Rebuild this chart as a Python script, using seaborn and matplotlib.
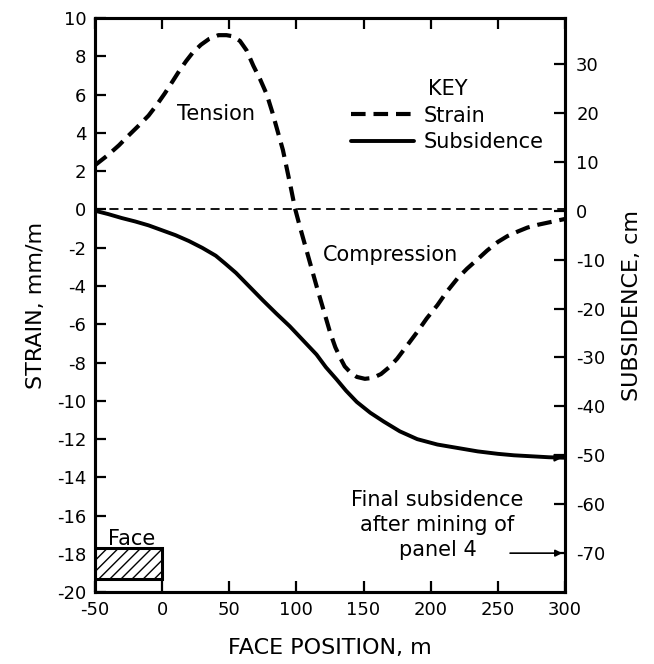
import numpy as np
import pandas as pd
import matplotlib
matplotlib.use("Agg")
import matplotlib.pyplot as plt
import seaborn as sns
from matplotlib.lines import Line2D
from matplotlib.patches import Rectangle

# strain curve (dashed), mm/m
strain_x = [-50, -40, -32, -25, -17, -10, -4, 2, 8, 13, 18, 23, 29, 35, 42, 48, 52, 58, 63,
            68, 73, 78, 82, 86, 90, 93, 96, 99, 103, 107, 111, 115, 120, 125, 129, 133,
            136, 140, 145, 151, 157, 163, 169, 175, 182, 190, 197, 205, 212, 220, 227,
            235, 242, 250, 257, 265, 272, 280, 290, 300]
strain_y = [2.3, 2.85, 3.35, 3.85, 4.4, 4.9, 5.45, 6.05, 6.7, 7.25, 7.75, 8.2, 8.6, 8.9, 9.1,
            9.1, 9.05, 8.8, 8.3, 7.5, 6.8, 6.0, 5.1, 4.1, 3.1, 2.1, 1.1, 0.05, -1.0, -2.0,
            -3.0, -4.0, -5.2, -6.4, -7.2, -7.8, -8.2, -8.5, -8.75, -8.85, -8.8, -8.6, -8.25,
            -7.8, -7.15, -6.4, -5.7, -5.0, -4.3, -3.6, -3.1, -2.6, -2.15, -1.7, -1.4, -1.15,
            -0.95, -0.8, -0.65, -0.5]

# subsidence curve (solid), cm
subs_x = [-50, -40, -30, -20, -10, 0, 10, 20, 30, 40, 47, 55, 65, 75, 85, 95, 105, 115, 122,
          130, 137, 145, 155, 165, 177, 190, 205, 220, 235, 250, 262, 275, 288, 300]
subs_y = [0, -0.7, -1.5, -2.2, -3.0, -4.0, -5.0, -6.2, -7.6, -9.2, -10.8, -12.7, -15.5, -18.3,
          -21.0, -23.6, -26.5, -29.4, -32.0, -34.5, -36.8, -39.1, -41.3, -43.1, -45.1, -46.7,
          -47.8, -48.5, -49.2, -49.7, -50.0, -50.2, -50.4, -50.5]

x_ticks = [-50, 0, 50, 100, 150, 200, 250, 300]
strain_ticks = list(range(-20, 11, 2))
subs_ticks = list(range(-70, 31, 10))
final_subsidence = -70

sns.set_style("ticks", {'axes.edgecolor': 'black', 'text.color': 'black',
                        'axes.labelcolor': 'black', 'xtick.color': 'black',
                        'ytick.color': 'black'})
plt.rcParams['font.family'] = ['DejaVu Sans']
plt.rcParams['axes.unicode_minus'] = False

strain_df = pd.DataFrame({'x': strain_x, 'strain': strain_y})
subs_df = pd.DataFrame({'x': subs_x, 'subsidence': subs_y})

dash = (0, (3.5, 1.9))

fig = plt.figure(figsize=(6.54, 6.64), dpi=100)
ax = fig.add_axes([0.145, 0.108, 0.719, 0.865])
ax2 = ax.twinx()

sns.lineplot(data=strain_df, x='x', y='strain', ax=ax, color='black', lw=3.0,
             sort=False, linestyle=dash)
sns.lineplot(data=subs_df, x='x', y='subsidence', ax=ax2, color='black', lw=2.8, sort=False)

ax.axhline(0, color='black', lw=1.3, linestyle=(0, (5, 3)))

ax.set_xlim(-50, 300)
ax.set_ylim(-20, 10)
ax2.set_ylim(-78, 39.4)
ax.set_xticks(x_ticks)
ax.set_yticks(strain_ticks)
ax2.set_yticks(subs_ticks)

for a in (ax, ax2):
    for s in a.spines.values():
        s.set_linewidth(2.2)
        s.set_visible(True)
ax.tick_params(axis='both', direction='in', length=8, width=1.6, labelsize=13, pad=6,
               top=True, right=False)
ax2.tick_params(axis='y', direction='in', length=8, width=1.6, labelsize=13, pad=8)

ax.set_xlabel('FACE POSITION, m', fontsize=16, labelpad=14)
ax.set_ylabel('STRAIN, mm/m', fontsize=16, labelpad=8)
ax2.set_ylabel('SUBSIDENCE, cm', fontsize=16, labelpad=12)

# region labels
ax.text(40, 5.0, 'Tension', fontsize=15, ha='center', va='center')
ax.text(170, -2.4, 'Compression', fontsize=15, ha='center', va='center')

# key
handles = [Line2D([], [], color='black', lw=3.0, linestyle=dash),
           Line2D([], [], color='black', lw=2.8)]
leg = ax.legend(handles, ['Strain', 'Subsidence'], title='KEY', frameon=False,
                loc='center', bbox_to_anchor=(0.75, 0.83), fontsize=15,
                title_fontsize=15, handlelength=3.0, handletextpad=0.5,
                labelspacing=0.3)

# face block
ax.add_patch(Rectangle((-50, -19.3), 50, 1.6, facecolor='white', edgecolor='black',
                       lw=2.2, hatch='///', zorder=3))
ax.text(-40, -17.2, 'Face', fontsize=15, ha='left', va='center')

# final subsidence note
ax.text(205, -16.5, 'Final subsidence\nafter mining of\npanel 4', fontsize=15,
        ha='center', va='center', linespacing=1.3)
ax2.annotate('', xy=(300, final_subsidence), xytext=(257, final_subsidence),
             arrowprops=dict(arrowstyle='-|>', color='black', lw=1.2))
ax2.annotate('', xy=(300, subs_y[-1]), xytext=(292, subs_y[-1]),
             arrowprops=dict(arrowstyle='-|>', color='black', lw=1.5))

fig.savefig('out.png', dpi=100)
